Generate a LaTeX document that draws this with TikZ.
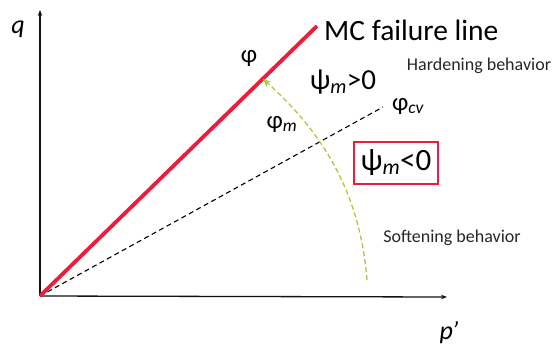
\documentclass[tikz,border=0pt]{standalone}
\usepackage{fontspec}
\setmainfont{Carlito}
\usetikzlibrary{positioning,arrows.meta}
\definecolor{cFail}{HTML}{EC1C3C}
\definecolor{cPath}{HTML}{A9CC3A}
\definecolor{cAxis}{HTML}{111111}
\tikzset{
  axis/.style={-{Stealth[length=6pt,width=4.5pt]}, line width=1.3pt, cAxis},
  fail/.style={line width=3.8pt, cFail},
  cvl/.style={line width=1.1pt, black, dash pattern=on 5pt off 3.5pt},
  pth/.style={line width=1.3pt, cPath, dash pattern=on 5pt off 3pt,
              -{Stealth[length=8pt,width=7pt]}},
  lbl/.style={inner sep=1pt, font=\fontsize{25}{27}\selectfont},
  big/.style={inner sep=1pt, font=\fontsize{29.5}{32}\selectfont},
  note/.style={inner sep=1pt, font=\fontsize{18}{20}\selectfont, text=black!85},
  warn/.style={draw=cFail, line width=2.8pt, inner sep=3pt, minimum width=84pt,
               minimum height=42pt, font=\fontsize{31}{33}\selectfont},
}
\newcommand{\psim}{ψ\textsubscript{\itshape m}}
\begin{document}
\begin{tikzpicture}[x=1pt, y=-1pt]
  \useasboundingbox (0,0) rectangle (556,354);
  % axes
  \coordinate (O) at (40,296);
  \coordinate (qend) at (42,10);
  \coordinate (pend) at (447,297);
  \draw[axis] (O) -- (O |- qend);
  \draw[axis] (O) -- (pend);
  \node[lbl, font=\fontsize{26}{28}\selectfont\itshape] (q) at (18,29) {q};
  \node[lbl, font=\fontsize{26}{28}\selectfont\itshape] (p) at (449,333) {p\kern-1pt'};

  % failure line and critical state line
  \coordinate (mcend) at (317,26);
  \coordinate (cvend) at (383,107);
  \draw[cvl] (O) -- (cvend);
  \draw[fail] (O) -- (mcend);
  \node[big, anchor=west] (mc) at (323,30) {MC failure line};
  \node[lbl] (phi) at (249,58) {φ};
  \node[lbl] (phicv) at (408,106) {φ\textsubscript{\itshape cv}};
  \node[lbl] (phim) at (282,124) {φ\textsubscript{\itshape m}};

  % stress path
  \coordinate (pstart) at (367,280);
  \coordinate (ptip) at (263,79);
  \draw[pth] (pstart) .. controls (360,190) and (320,130) .. (ptip);

  % dilatancy zones
  \node[lbl, font=\fontsize{29}{31}\selectfont] (hard) at (343,82) {\psim>0};
  \node[note] (hardtxt) at (479,66) {Hardening behavior};
  \node[warn] (soft) at (396,163) {\psim<0};
  \node[note] (softtxt) at (452,238) {Softening behavior};
\end{tikzpicture}
\end{document}
